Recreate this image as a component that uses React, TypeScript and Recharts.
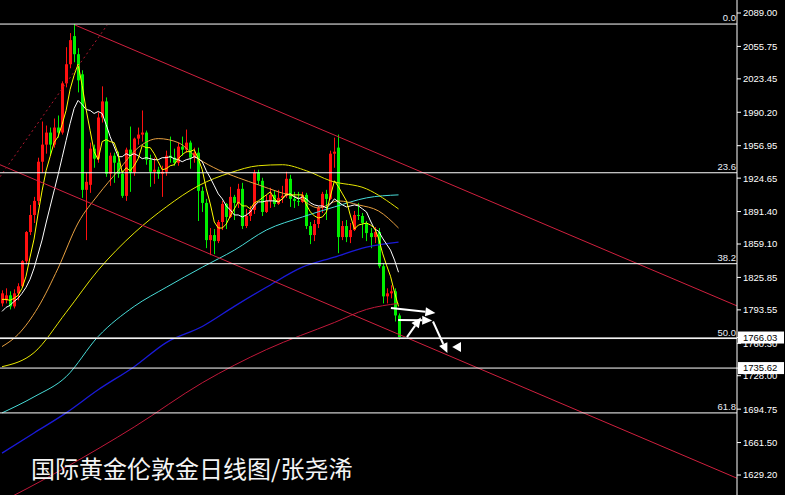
import React from 'react';
import { ComposedChart, Bar, Line, XAxis, YAxis, ReferenceLine } from 'recharts';

// ---- Daily candles ----
const opens = [
  1800, 1803, 1808, 1797, 1810, 1817, 1842, 1871, 1888, 1902,
  1941, 1958, 1970, 1958, 1975, 1970, 2019, 2038, 2066, 2048,
  2028, 1913, 1918, 1954, 1944, 1985, 2001, 1929, 1947, 1940,
  1929, 1907, 1953, 1930, 1964, 1968, 1970, 1943, 1931, 1933,
  1929, 1931, 1947, 1945, 1940, 1956, 1953, 1960, 1945, 1950,
  1912, 1900, 1863, 1868, 1862, 1881, 1899, 1886, 1906, 1900,
  1914, 1877, 1887, 1893, 1930, 1922, 1891, 1902, 1908, 1899,
  1905, 1907, 1924, 1904, 1902, 1901, 1908, 1877, 1868, 1879,
  1895, 1909, 1904, 1949, 1955, 1866, 1877, 1866, 1873, 1888,
  1887, 1880, 1870, 1866, 1871, 1837, 1807, 1810, 1812, 1788,
];
const highs = [
  1813, 1815, 1812, 1814, 1820, 1843, 1872, 1898, 1906, 1945,
  1981, 1977, 1975, 1984, 1987, 2021, 2055, 2069, 2078, 2054,
  2032, 1930, 1960, 1958, 1990, 2016, 2005, 1950, 1950, 1951,
  1932, 1955, 1976, 1965, 1975, 1992, 1972, 1948, 1945, 1936,
  1937, 1952, 1966, 1954, 1960, 1966, 1973, 1962, 1955, 1955,
  1916, 1904, 1875, 1874, 1883, 1902, 1900, 1916, 1908, 1919,
  1920, 1894, 1897, 1933, 1933, 1925, 1908, 1915, 1912, 1913,
  1917, 1931, 1928, 1911, 1911, 1911, 1910, 1881, 1883, 1897,
  1911, 1913, 1952, 1965, 1968, 1882, 1883, 1880, 1892, 1900,
  1890, 1882, 1875, 1876, 1875, 1840, 1815, 1818, 1815, 1790,
];
const lows = [
  1797, 1800, 1794, 1795, 1803, 1816, 1839, 1868, 1880, 1898,
  1930, 1949, 1948, 1955, 1965, 1968, 2015, 2034, 2040, 2010,
  1905, 1863, 1910, 1935, 1940, 1980, 1926, 1917, 1920, 1925,
  1905, 1902, 1911, 1927, 1958, 1961, 1938, 1916, 1919, 1924,
  1906, 1927, 1940, 1937, 1937, 1947, 1950, 1934, 1940, 1882,
  1891, 1855, 1848, 1849, 1860, 1873, 1874, 1885, 1883, 1895,
  1874, 1875, 1882, 1889, 1918, 1887, 1890, 1895, 1896, 1898,
  1900, 1905, 1896, 1895, 1897, 1900, 1874, 1859, 1862, 1875,
  1890, 1883, 1903, 1935, 1850, 1863, 1861, 1860, 1872, 1883,
  1865, 1862, 1855, 1860, 1835, 1800, 1800, 1805, 1782, 1764,
];
const closes = [
  1810, 1808, 1797, 1810, 1817, 1842, 1871, 1888, 1902, 1941,
  1958, 1970, 1958, 1975, 1970, 2019, 2038, 2062, 2048, 2022,
  1913, 1921, 1954, 1944, 1985, 2001, 1929, 1947, 1940, 1929,
  1907, 1953, 1930, 1964, 1968, 1970, 1943, 1931, 1933, 1929,
  1931, 1947, 1945, 1940, 1956, 1953, 1960, 1945, 1950, 1912,
  1900, 1863, 1868, 1862, 1881, 1899, 1886, 1906, 1900, 1914,
  1877, 1887, 1893, 1930, 1922, 1891, 1902, 1908, 1899, 1905,
  1907, 1924, 1904, 1902, 1901, 1908, 1877, 1868, 1879, 1895,
  1909, 1904, 1949, 1951, 1866, 1877, 1866, 1873, 1888, 1887,
  1880, 1870, 1866, 1871, 1837, 1807, 1810, 1812, 1788, 1766,
];

// ---- Moving averages ----
const ma5 = [
  1804, 1804, 1803, 1805, 1808, 1815, 1827, 1846, 1864, 1889,
  1912, 1932, 1946, 1960, 1966, 1978, 1992, 2013, 2027, 2038,
  2017, 1993, 1972, 1951, 1943, 1961, 1963, 1961, 1960, 1949,
  1930, 1935, 1932, 1937, 1944, 1957, 1955, 1955, 1949, 1941,
  1933, 1934, 1937, 1938, 1944, 1948, 1951, 1951, 1953, 1944,
  1933, 1914, 1899, 1881, 1875, 1875, 1879, 1887, 1894, 1901,
  1897, 1897, 1894, 1900, 1902, 1905, 1908, 1911, 1904, 1901,
  1904, 1909, 1908, 1908, 1908, 1908, 1898, 1891, 1887, 1885,
  1886, 1891, 1907, 1922, 1916, 1909, 1902, 1887, 1874, 1878,
  1879, 1880, 1878, 1875, 1865, 1850, 1838, 1827, 1811, 1797,
];
const ma10 = [
  1792, 1796, 1798, 1802, 1805, 1810, 1816, 1824, 1835, 1849,
  1863, 1880, 1896, 1912, 1928, 1945, 1962, 1979, 1994, 2002,
  1998, 1993, 1992, 1989, 1991, 1989, 1978, 1966, 1956, 1946,
  1946, 1949, 1947, 1949, 1947, 1944, 1945, 1944, 1943, 1943,
  1945, 1945, 1946, 1944, 1943, 1941, 1943, 1944, 1946, 1944,
  1941, 1932, 1925, 1917, 1909, 1904, 1897, 1893, 1888, 1888,
  1886, 1888, 1891, 1897, 1901, 1901, 1902, 1902, 1902, 1901,
  1904, 1908, 1909, 1906, 1904, 1906, 1904, 1900, 1898, 1897,
  1897, 1895, 1899, 1904, 1901, 1898, 1896, 1897, 1898, 1897,
  1894, 1891, 1882, 1874, 1872, 1865, 1859, 1853, 1843, 1831,
];
// [candle index, value]
const ma30: [number, number][] = [
  [0, 1757], [4, 1769], [9, 1796], [14, 1835], [19, 1880], [24, 1908], [29, 1932],
  [34, 1955], [39, 1964], [44, 1960], [49, 1944], [54, 1933], [59, 1925], [64, 1918],
  [69, 1911], [74, 1905], [79, 1895], [84, 1902], [89, 1898], [94, 1892], [99, 1875],
];
const ma60: [number, number][] = [
  [0, 1737], [8, 1751], [16, 1791], [24, 1833], [33, 1870], [41, 1896], [49, 1917],
  [57, 1930], [64, 1937], [70, 1938], [76, 1932], [82, 1922], [91, 1914], [99, 1894],
];
const ma100: [number, number][] = [
  [0, 1691], [8, 1707], [16, 1727], [24, 1767], [33, 1797], [41, 1816], [50, 1836],
  [58, 1853], [66, 1873], [75, 1886], [83, 1896], [91, 1905], [99, 1908],
];
const ma150: [number, number][] = [
  [0, 1651], [8, 1671], [16, 1691], [24, 1714], [33, 1737], [41, 1761], [50, 1777],
  [58, 1797], [66, 1816], [75, 1836], [83, 1846], [91, 1856], [99, 1861],
];
const ma200: [number, number][] = [
  [0, 1603], [3, 1609], [16, 1637], [33, 1677], [50, 1721], [66, 1754], [83, 1781],
  [91, 1794], [99, 1800],
];

// ---- Price axis ----
const yTicks = [2089.0, 2055.75, 2023.45, 1990.2, 1956.95, 1924.65, 1891.4, 1859.1, 1825.85,
  1793.55, 1760.3, 1728.0, 1694.75, 1661.5, 1629.2];
const priceTags = [1766.03, 1735.62];
const yDomain: [number, number] = [1609.3, 2101.94];
const xDomain: [number, number] = [-0.5, 183.5];

// ---- Fibonacci levels & horizontal lines ----
const fibLevels = [
  { label: '0.0', value: 2078.0 },
  { label: '23.6', value: 1930.0 },
  { label: '38.2', value: 1839.5 },
  { label: '50.0', value: 1765.0 },
  { label: '61.8', value: 1691.0 },
];
const bidPrice = 1766.03;
const supportLine = 1735.62;

// ---- Channel / trend lines: [k1, v1, k2, v2] ----
const channelUpper = [18.25, 2077, 183.5, 1797.5];
const channelLower = [-0.5, 1938, 183.5, 1626];
const dottedTrend = [-0.5, 1926, 26.25, 2077];

// ---- Annotation arrows: [k1, v1, k2, v2] ----
const arrows = [
  [97.1, 1795.5, 108.2, 1790.5],
  [98.9, 1783.5, 107.4, 1783.0],
  [101.1, 1766.5, 104.6, 1786.0],
  [107.6, 1782.0, 111.2, 1750.5],
];
const leftMarker = [114.6, 1756.5, 112.4, 1756.5];

const title = '国际黄金伦敦金日线图/张尧浠';

const data = opens.map((o, i) => {
  const row: any = {
    k: i,
    range: [lows[i], highs[i]],
    open: o,
    high: highs[i],
    low: lows[i],
    close: closes[i],
    ma5: ma5[i],
    ma10: ma10[i],
  };
  return row;
});
const attach = (key: string, pts: [number, number][]) => {
  pts.forEach(([k, v]) => {
    data[k][key] = v;
  });
};
attach('ma30', ma30);
attach('ma60', ma60);
attach('ma100', ma100);
attach('ma150', ma150);
attach('ma200', ma200);

const FONT = "'Liberation Sans', Arial, sans-serif";

const Candle = (props: any) => {
  const { x, y, width, height, payload } = props;
  if (!payload || height == null) return null;
  const { open, close, high, low } = payload;
  const up = close >= open;
  const color = up ? '#ff1010' : '#00f000';
  const ppu = height / (high - low);
  const top = y + (high - Math.max(open, close)) * ppu;
  const bot = y + (high - Math.min(open, close)) * ppu;
  const bx = Math.round(x);
  return (
    <g>
      <rect x={bx + 1} y={y} width={1} height={height} fill={color} />
      <rect x={bx} y={top} width={3} height={Math.max(1, bot - top)} fill={color} />
    </g>
  );
};

const PriceTick = (props: any) => {
  const { x, y, payload } = props;
  const v = payload.value as number;
  const boxed = priceTags.includes(v);
  if (boxed) {
    return (
      <g>
        <rect x={x - 5} y={y - 6} width={46} height={12} fill="#ffffff" />
        <text x={x} y={y} dy="0.36em" fill="#000" fontSize={9.5} fontFamily={FONT}>
          {v.toFixed(2)}
        </text>
      </g>
    );
  }
  return (
    <text x={x} y={y} dy="0.36em" fill="#fff" fontSize={9.5} fontFamily={FONT}>
      {v.toFixed(2)}
    </text>
  );
};

const FibLabel = (props: any) => {
  const { viewBox, text } = props;
  if (!viewBox) return null;
  return (
    <text
      x={viewBox.x + viewBox.width - 1}
      y={viewBox.y - 3}
      textAnchor="end"
      fill="#e8eef8"
      fontSize={9.5}
      fontFamily={FONT}
    >
      {text}
    </text>
  );
};

const makeArrow = (headOnly: boolean) => (props: any) => {
  const { x1, y1, x2, y2 } = props;
  const dx = x2 - x1;
  const dy = y2 - y1;
  const len = Math.hypot(dx, dy) || 1;
  const ux = dx / len;
  const uy = dy / len;
  const hl = headOnly ? len : 10;
  const hw = headOnly ? 5 : 4.5;
  const bx = x2 - ux * hl;
  const by = y2 - uy * hl;
  const px = -uy;
  const py = ux;
  return (
    <g>
      {!headOnly && (
        <line x1={x1} y1={y1} x2={bx} y2={by} stroke="#fff" strokeWidth={2} />
      )}
      <polygon
        points={`${x2},${y2} ${bx + px * hw},${by + py * hw} ${bx - px * hw},${by - py * hw}`}
        fill="#fff"
      />
    </g>
  );
};
const arrowShape = makeArrow(false);
const headShape = makeArrow(true);

const seg = (s: number[]) => [
  { x: s[0], y: s[1] },
  { x: s[2], y: s[3] },
];

const lineCommon = {
  dot: false,
  activeDot: false,
  isAnimationActive: false,
  strokeWidth: 1,
} as const;

export default function App() {
  return (
    <div
      style={{
        position: 'absolute',
        left: 0,
        top: 0,
        width: 785,
        height: 495,
        background: '#000',
        overflow: 'hidden',
      }}
    >
      <ComposedChart
        width={785}
        height={495}
        data={data}
        margin={{ top: 0, right: 0, bottom: 0, left: 0 }}
      >
        <XAxis dataKey="k" type="number" domain={xDomain} hide allowDataOverflow />
        <YAxis
          orientation="right"
          domain={yDomain}
          allowDataOverflow
          ticks={[...yTicks, ...priceTags]}
          interval={0}
          width={48}
          tickSize={4}
          tickMargin={2}
          axisLine={{ stroke: '#ffffff' }}
          tickLine={{ stroke: '#ffffff' }}
          tick={<PriceTick />}
        />
        <Bar dataKey="range" barSize={3} isAnimationActive={false} activeBar={false} shape={<Candle />} />

        <Line dataKey="ma200" type="monotone" stroke="#c0183a" connectNulls {...lineCommon} />
        <Line dataKey="ma150" type="monotone" stroke="#1a1ad8" connectNulls {...lineCommon} strokeWidth={1.3} />
        <Line dataKey="ma100" type="monotone" stroke="#48dcd8" connectNulls {...lineCommon} />
        <Line dataKey="ma60" type="monotone" stroke="#e6e600" connectNulls {...lineCommon} />
        <Line dataKey="ma30" type="monotone" stroke="#e8a040" connectNulls {...lineCommon} />
        <Line dataKey="ma10" type="linear" stroke="#ffffff" {...lineCommon} />
        <Line dataKey="ma5" type="linear" stroke="#ffff00" {...lineCommon} />

        <ReferenceLine segment={seg(channelUpper)} stroke="#d0203e" strokeWidth={1} ifOverflow="hidden" />
        <ReferenceLine segment={seg(channelLower)} stroke="#d0203e" strokeWidth={1} ifOverflow="hidden" />
        <ReferenceLine segment={seg(dottedTrend)} stroke="#b01830" strokeWidth={1} strokeDasharray="2 3" ifOverflow="hidden" />

        {fibLevels.map((f) => (
          <ReferenceLine
            key={f.label}
            y={f.value}
            stroke="#ffffff"
            strokeWidth={1}
            ifOverflow="hidden"
            label={<FibLabel text={f.label} />}
          />
        ))}
        <ReferenceLine y={bidPrice} stroke="#9a9a9a" strokeWidth={1} ifOverflow="hidden" />
        <ReferenceLine y={supportLine} stroke="#ffffff" strokeWidth={1} ifOverflow="hidden" />

        {arrows.map((a, i) => (
          <ReferenceLine key={'a' + i} segment={seg(a)} shape={arrowShape} ifOverflow="hidden" />
        ))}
        <ReferenceLine segment={seg(leftMarker)} shape={headShape} ifOverflow="hidden" />
      </ComposedChart>
      <div
        style={{
          position: 'absolute',
          left: 31,
          top: 455,
          color: '#f4f4f4',
          fontFamily: "'Noto Sans CJK SC', sans-serif",
          fontSize: 24,
          lineHeight: '26px',
          whiteSpace: 'nowrap',
        }}
      >
        {title}
      </div>
    </div>
  );
}
